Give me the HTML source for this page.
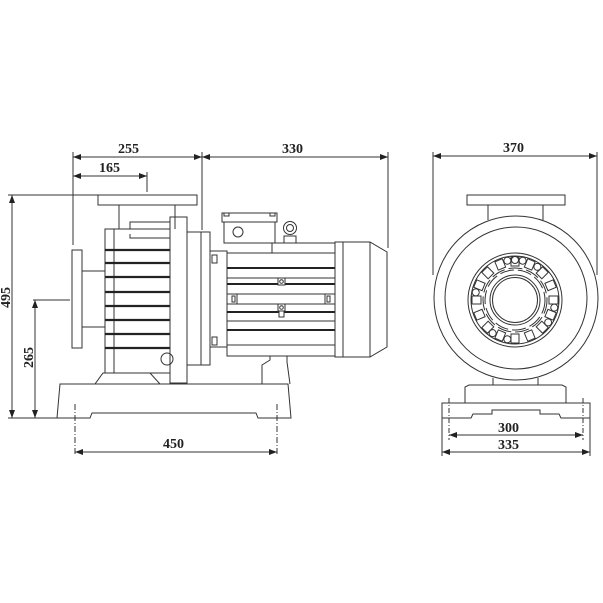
<!DOCTYPE html>
<html><head><meta charset="utf-8"><style>
html,body{margin:0;padding:0;background:#fff;}
svg{display:block;}
text{font-family:"Liberation Serif",serif;font-weight:bold;font-size:14px;fill:#222;}
</style></head><body>
<svg width="603" height="603" viewBox="0 0 603 603" xmlns="http://www.w3.org/2000/svg">
<defs>
<marker id="a" markerWidth="8" markerHeight="6" refX="8" refY="3" orient="auto-start-reverse" markerUnits="userSpaceOnUse"><path d="M0,0 L8,3 L0,6 z" fill="#222"/></marker>
</defs>
<g fill="none" stroke="#333" stroke-width="1">
<!-- dimensions left view -->
<line x1="73" y1="157" x2="202" y2="157" marker-start="url(#a)" marker-end="url(#a)"/>
<line x1="73" y1="176" x2="147" y2="176" marker-start="url(#a)" marker-end="url(#a)"/>
<line x1="202" y1="157" x2="388" y2="157" marker-start="url(#a)" marker-end="url(#a)"/>
<line x1="73" y1="152" x2="73" y2="245"/>
<line x1="202" y1="152" x2="202" y2="230"/>
<line x1="147" y1="172" x2="147" y2="192"/>
<line x1="388" y1="152" x2="388" y2="248"/>
<line x1="12" y1="195" x2="12" y2="418" marker-start="url(#a)" marker-end="url(#a)"/>
<line x1="8" y1="195" x2="98" y2="195"/>
<line x1="8" y1="418" x2="57" y2="418"/>
<line x1="35" y1="300" x2="35" y2="418" marker-start="url(#a)" marker-end="url(#a)"/>
<line x1="33" y1="300" x2="70" y2="300"/>
<line x1="75" y1="452" x2="277" y2="452" marker-start="url(#a)" marker-end="url(#a)"/>
<line x1="75" y1="404" x2="75" y2="456" stroke-dasharray="6,2,1,2"/>
<line x1="277" y1="404" x2="277" y2="456" stroke-dasharray="6,2,1,2"/>

<!-- base -->
<path d="M60,384 L288,384 L291,418 L258,418 L256,413 L92,413 L90,418 L57,418 Z"/>
<path d="M95,384 L103,373 L150,373 L160,384"/>
<!-- motor foot -->
<path d="M262,384 L262,365 L270,360 L270,356 L287,356 L287,362 L290,384"/>
<!-- top flange & neck -->
<rect x="98" y="195" width="99" height="10"/>
<line x1="119" y1="205" x2="119" y2="229"/>
<line x1="175" y1="205" x2="175" y2="229"/>
<path d="M130,229 L130,222 L170,222"/>
<path d="M130,234 L130,238 L170,238"/>
<!-- casing -->
<rect x="105" y="229" width="65" height="144"/>
<line x1="114" y1="229" x2="114" y2="373"/>
<g stroke-width="2.2" stroke="#222">
<line x1="105" y1="250" x2="170" y2="250"/><line x1="105" y1="263" x2="170" y2="263"/>
<line x1="105" y1="277" x2="170" y2="277"/><line x1="105" y1="292" x2="170" y2="292"/>
<line x1="105" y1="306" x2="170" y2="306"/><line x1="105" y1="320" x2="170" y2="320"/>
<line x1="105" y1="334" x2="170" y2="334"/><line x1="105" y1="348" x2="170" y2="348"/>
</g>
<circle cx="167" cy="359" r="6"/>
<!-- inlet flange -->
<rect x="72" y="250" width="10" height="98"/>
<rect x="82" y="271" width="23" height="56"/>
<!-- plates -->
<rect x="170" y="217" width="17" height="166"/>
<rect x="187" y="232" width="14" height="133"/>
<rect x="201" y="232" width="9" height="133"/>
<!-- motor flange -->
<rect x="210" y="251" width="17" height="96"/>
<rect x="212" y="255" width="5" height="8"/>
<rect x="212" y="337" width="5" height="8"/>
<!-- terminal box -->
<rect x="222" y="213" width="55" height="9"/>
<rect x="224" y="213" width="5" height="3"/><rect x="270" y="213" width="5" height="3"/>
<rect x="224" y="222" width="51" height="21"/>
<circle cx="238" cy="232" r="5"/>
<circle cx="290" cy="228" r="6.5"/><circle cx="290" cy="228" r="3.5"/>
<rect x="284" y="236" width="12" height="7"/>
<!-- motor body -->
<rect x="272" y="243" width="63" height="10"/>
<rect x="227" y="253" width="108" height="103"/>
<g>
<line x1="227" y1="268" x2="335" y2="268"/><line x1="227" y1="278" x2="335" y2="278"/>
<line x1="227" y1="284" x2="335" y2="284"/><line x1="227" y1="294" x2="335" y2="294"/>
<line x1="227" y1="304" x2="335" y2="304"/><line x1="227" y1="312" x2="335" y2="312"/>
<line x1="227" y1="321" x2="335" y2="321"/><line x1="227" y1="330" x2="335" y2="330"/>
<line x1="227" y1="345" x2="335" y2="345"/>
</g>
<g stroke-width="2" stroke="#222">
<line x1="227" y1="268" x2="335" y2="268"/><line x1="227" y1="284" x2="335" y2="284"/>
<line x1="227" y1="312" x2="335" y2="312"/><line x1="227" y1="330" x2="335" y2="330"/>
</g>
<rect x="278" y="278" width="7" height="7" fill="#fff"/><circle cx="281.5" cy="281.5" r="1.8"/>
<rect x="278" y="304" width="7" height="7" fill="#fff"/><circle cx="281.5" cy="307.5" r="1.8"/>
<rect x="279" y="311" width="5" height="6" fill="#fff"/>
<rect x="227" y="294" width="10" height="10" fill="#fff"/><rect x="232" y="296" width="3" height="6"/>
<rect x="325" y="294" width="10" height="10" fill="#fff"/><rect x="327" y="296" width="3" height="6"/>
<!-- fan cover -->
<rect x="335" y="242" width="8" height="115"/>
<path d="M343,242 L370,242 L387,252 L387,347 L370,357 L343,357"/>
<line x1="370" y1="242" x2="370" y2="357"/>

<!-- right view dims -->
<line x1="433" y1="156" x2="597" y2="156" marker-start="url(#a)" marker-end="url(#a)"/>
<line x1="433" y1="152" x2="433" y2="275"/>
<line x1="597" y1="152" x2="597" y2="275"/>
<line x1="449" y1="435" x2="583" y2="435" marker-start="url(#a)" marker-end="url(#a)"/>
<line x1="442" y1="452" x2="590" y2="452" marker-start="url(#a)" marker-end="url(#a)"/>
<line x1="449" y1="398" x2="449" y2="440" stroke-dasharray="5,2,1,2"/>
<line x1="583" y1="398" x2="583" y2="440" stroke-dasharray="5,2,1,2"/>
<line x1="442" y1="418" x2="442" y2="456"/>
<line x1="590" y1="418" x2="590" y2="456"/>
<!-- right view body -->
<rect x="467" y="195" width="98" height="10"/>
<line x1="488" y1="205" x2="488" y2="220"/>
<line x1="543" y1="205" x2="543" y2="220"/>
<circle cx="516" cy="298" r="82"/>
<circle cx="516" cy="298" r="71"/>
<line x1="493" y1="378" x2="493" y2="385"/>
<line x1="538" y1="378" x2="538" y2="385"/>
<path d="M465,403 L465,387 L469,385 L562,385 L566,387 L566,403"/>
<path d="M442,403 L590,403 L590,418 L561,418 L559,414 L540,414 L540,410 L492,410 L492,414 L473,414 L471,418 L442,418 Z"/>
<circle cx="515" cy="300" r="47"/>
<circle cx="515" cy="300" r="44"/>
<circle cx="515" cy="300" r="25"/>
<circle cx="515" cy="300" r="22.5"/>
<circle cx="515" cy="300" r="30" stroke-dasharray="14,4"/>
<circle cx="515" cy="300" r="32" stroke-dasharray="14,4"/>
<g transform="translate(515,300)">
<g id="s"><rect x="-4" y="-43" width="8" height="9" fill="#fff"/></g>
<use href="#s" transform="rotate(22.5)"/><use href="#s" transform="rotate(45)"/><use href="#s" transform="rotate(67.5)"/>
<use href="#s" transform="rotate(90)"/><use href="#s" transform="rotate(112.5)"/><use href="#s" transform="rotate(135)"/>
<use href="#s" transform="rotate(157.5)"/><use href="#s" transform="rotate(180)"/><use href="#s" transform="rotate(202.5)"/>
<use href="#s" transform="rotate(225)"/><use href="#s" transform="rotate(247.5)"/><use href="#s" transform="rotate(270)"/>
<use href="#s" transform="rotate(292.5)"/><use href="#s" transform="rotate(315)"/><use href="#s" transform="rotate(337.5)"/>
<g id="c"><circle cx="0" cy="-40" r="3.5" fill="#fff"/></g>
<use href="#c" transform="rotate(11)"/><use href="#c" transform="rotate(34)"/><use href="#c" transform="rotate(101)"/>
<use href="#c" transform="rotate(124)"/><use href="#c" transform="rotate(191)"/><use href="#c" transform="rotate(214)"/>
<use href="#c" transform="rotate(281)"/><use href="#c" transform="rotate(-11)"/>
</g>
</g>
<text x="118" y="153">255</text>
<text x="99" y="172">165</text>
<text x="282" y="153">330</text>
<text x="503" y="152">370</text>
<text x="163" y="448">450</text>
<text x="498" y="432">300</text>
<text x="498" y="449">335</text>
<text transform="translate(10,308) rotate(-90)">495</text>
<text transform="translate(33,368) rotate(-90)">265</text>
</svg>
</body></html>
